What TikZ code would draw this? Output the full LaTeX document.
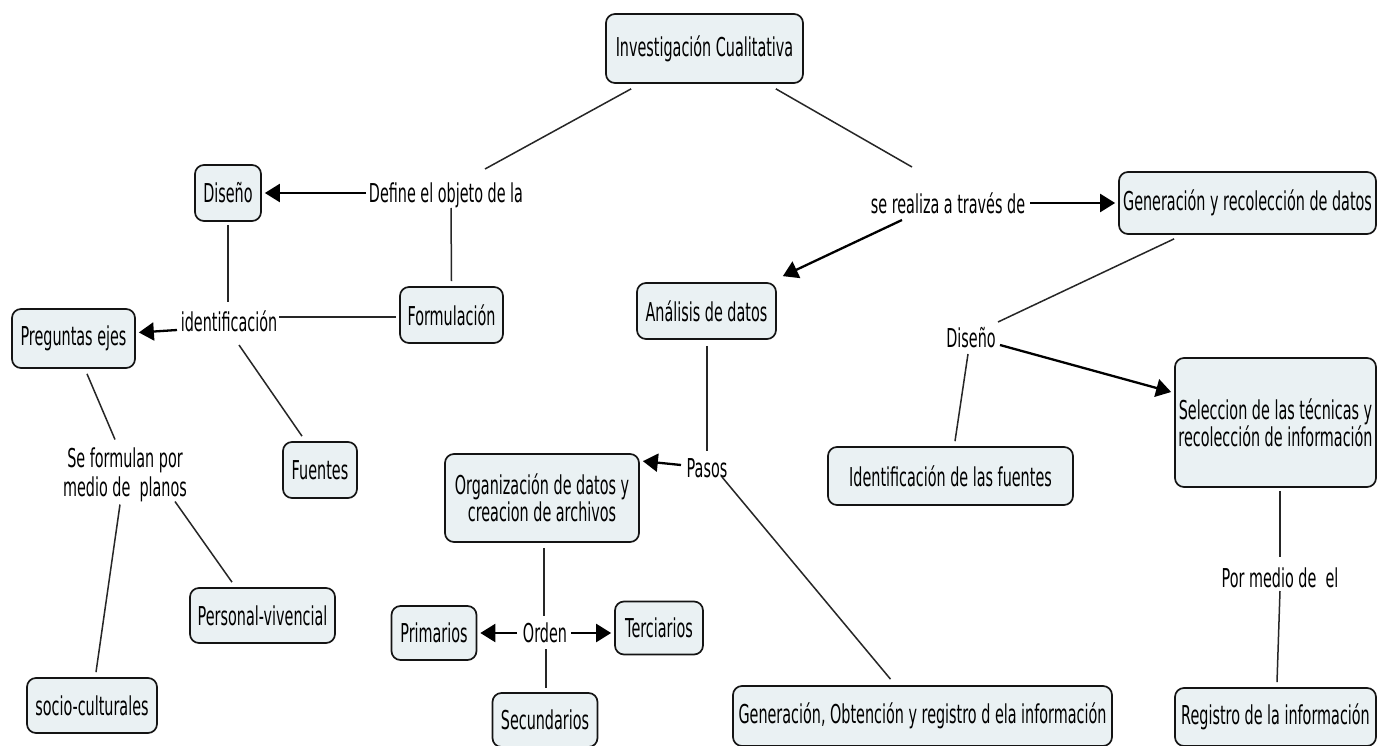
\documentclass[tikz,border=0pt]{standalone}
\usepackage{fontspec}
\setmainfont[FakeStretch=0.553]{DejaVu Sans}
\usetikzlibrary{arrows.meta,calc}
\definecolor{boxfill}{RGB}{234,241,243}
\definecolor{boxline}{RGB}{20,20,20}
\begin{document}
\begin{tikzpicture}[x=1pt,y=-1pt,
  font=\fontsize{26}{27}\selectfont,
  cbox/.style={draw=boxline, line width=1.7pt, rounded corners=9pt, fill=boxfill, align=center, inner sep=0pt},
  lbl/.style={inner sep=0pt, align=center},
  con/.style={line width=1.5pt, draw=black!85},
  arr/.style={line width=2.3pt, draw=black, -{Triangle[length=15pt,width=18pt]}}]
\path[fill=white] (0,0) rectangle (1377,746);
\useasboundingbox (0,0) rectangle (1377,746);

% concept boxes
\node[cbox, minimum width=197pt, minimum height=69pt] (inv) at (704.5,48.5) {Investigación Cualitativa};
\node[cbox, minimum width=66pt, minimum height=56pt] (dis1) at (228,193) {Diseño};
\node[cbox, minimum width=103pt, minimum height=56pt] (form) at (451.5,315) {Formulación};
\node[cbox, minimum width=123pt, minimum height=59pt] (preg) at (73.5,338.5) {Preguntas ejes};
\node[cbox, minimum width=74pt, minimum height=56pt] (fue) at (320,470) {Fuentes};
\node[cbox, minimum width=145pt, minimum height=55pt] (pers) at (262.5,615.5) {Personal-vivencial};
\node[cbox, minimum width=130pt, minimum height=55pt] (soc) at (92,705.5) {socio-culturales};
\node[cbox, minimum width=257pt, minimum height=62pt] (gen) at (1247.5,203) {Generación y recolección de datos};
\node[cbox, minimum width=139pt, minimum height=56pt] (ana) at (706.5,311) {Análisis de datos};
\node[cbox, minimum width=194pt, minimum height=88pt] (org) at (542,498) {Organización de datos y\\creacion de archivos};
\node[cbox, minimum width=85pt, minimum height=54pt] (prim) at (434,633) {Primarios};
\node[cbox, minimum width=88pt, minimum height=53pt] (ter) at (659,628) {Terciarios};
\node[cbox, minimum width=105pt, minimum height=54pt] (sec) at (545,720) {Secundarios};
\node[cbox, minimum width=379pt, minimum height=60pt] (gob) at (922.5,716) {Generación, Obtención y registro d ela información};
\node[cbox, minimum width=201pt, minimum height=129pt, font=\fontsize{26}{25}\selectfont] (sel) at (1275.5,422.5) {Seleccion de las técnicas y\\recolección de información};
\node[cbox, minimum width=201pt, minimum height=58pt] (reg) at (1275.5,717) {Registro de la información};
\node[cbox, minimum width=245pt, minimum height=58pt] (idf) at (950.5,476) {Identificación de las fuentes};

% linking phrases
\node[lbl] (ldef) at (446,195) {Define el objeto de la};
\node[lbl] (lid) at (229,321) {identificación};
\node[lbl, font=\fontsize{26}{29}\selectfont] (lse) at (125,474.5) {Se formulan por\\medio de~ planos};
\node[lbl] (lrea) at (948,203) {se realiza a través de};
\node[lbl] (lpas) at (707,468) {Pasos};
\node[lbl] (lord) at (545,633) {Orden};
\node[lbl] (ldis) at (971,338) {Diseño};
\node[lbl] (lpor) at (1280,578) {Por medio de~ el};

% connectors
\draw[con] ($(inv.south west)+(26,5)$) -- ($(ldef)+(39,-26)$);
\draw[arr] ($(ldef)+(-80,-2)$) -- ($(dis1.east)+(3,0)$);
\draw[con] ($(form.north)+(0,-5)$) -- ($(ldef)+(5,13)$);
\draw[con] ($(dis1.south)+(0,3)$) -- ($(lid)+(-1,-19)$);
\draw[arr] ($(lid)+(-52,9)$) -- ($(preg.east)+(3,-6)$);
\draw[con] ($(form.west)+(-3,2)$) -- ($(lid)+(50,-4)$);
\draw[con] ($(lid)+(10,24)$) -- ($(fue.north)+(-18,-5)$);
\draw[con] ($(preg.south)+(13.5,5)$) -- ($(lse)+(-10,-35)$);
\draw[con] ($(lse)+(-5,30)$) -- ($(soc.north)+(4,-5)$);
\draw[con] ($(lse)+(50,27)$) -- ($(pers.north)+(-30.5,-5)$);
\draw[con] ($(inv.south east)+(-28,5)$) -- ($(lrea)+(-36,-36)$);
\draw[arr] ($(lrea)+(82,0)$) -- ($(gen.west)+(-3,0)$);
\draw[arr] ($(lrea)+(-46,17)$) -- ($(ana.north east)+(6,-6)$);
\draw[con] ($(ana.south)+(0.5,6)$) -- ($(lpas)+(0,-17)$);
\draw[arr] ($(lpas)+(-26,-3)$) -- ($(org.north east)+(3,8)$);
\draw[con] ($(lpas)+(15,9)$) -- ($(gob.north)+(-32,-6)$);
\draw[con] ($(org.south)+(2,5)$) -- ($(lord)+(-1,-17)$);
\draw[arr] ($(lord)+(-28,0)$) -- ($(prim.east)+(3,0)$);
\draw[arr] ($(lord)+(26,0)$) -- ($(ter.west)+(-3,5)$);
\draw[con] ($(lord)+(1,16)$) -- ($(sec.north)+(1,-4)$);
\draw[con] ($(gen.south west)+(56,4)$) -- ($(ldis)+(27,-16)$);
\draw[con] ($(ldis)+(-3,16)$) -- ($(idf.north)+(4.5,-5)$);
\draw[arr] ($(ldis)+(29,7)$) -- ($(sel.west)+(-3,-30.5)$);
\draw[con] ($(sel.south)+(4.5,3)$) -- ($(lpor)+(0,-21)$);
\draw[con] ($(lpor)+(0,13)$) -- ($(reg.north)+(1.5,-5)$);
\end{tikzpicture}
\end{document}
